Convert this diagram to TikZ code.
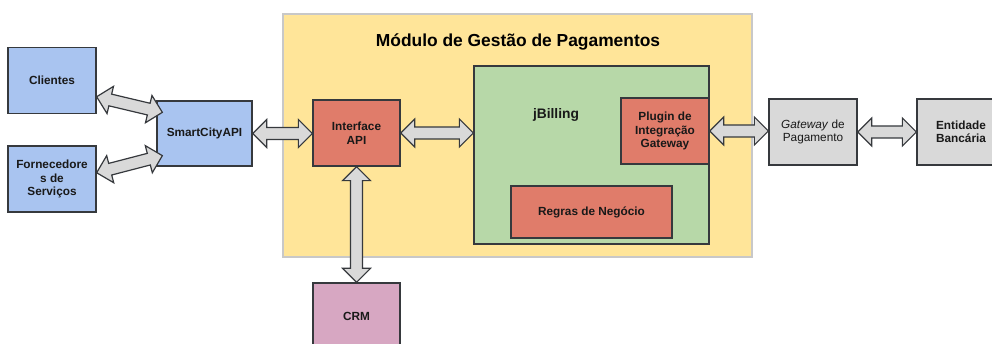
\documentclass[tikz,border=0pt]{standalone}
\usepackage{fontspec}
\setmainfont{Liberation Sans}
\usetikzlibrary{calc}

\definecolor{boxblue}{HTML}{A9C4F0}
\definecolor{boxred}{HTML}{E07C6A}
\definecolor{boxgreen}{HTML}{B7D8A8}
\definecolor{boxyellow}{HTML}{FFE599}
\definecolor{boxpink}{HTML}{D7A7C2}
\definecolor{boxgray}{HTML}{D9D9D9}
\definecolor{edgedark}{HTML}{36393D}
\definecolor{framegray}{HTML}{C8C8C8}

\tikzset{
  box/.style={draw=edgedark, line width=1.3pt, minimum width=88pt, minimum height=66pt,
    align=center, font=\fontsize{11.8}{13.5}\selectfont\bfseries, text=black!90},
  blockarrow/.style={draw=edgedark, fill=boxgray, line width=1.2pt, line join=miter,
    to path={let \p1=(\tikztostart), \p2=(\tikztotarget), \n1={atan2(\y2-\y1,\x2-\x1)} in
      (\p1) -- ($(\p1)+(\n1:14pt)+(\n1+90:14pt)$) -- ($(\p1)+(\n1:14pt)+(\n1+90:6pt)$)
      -- ($(\p2)+(\n1:-14pt)+(\n1+90:6pt)$) -- ($(\p2)+(\n1:-14pt)+(\n1+90:14pt)$)
      -- (\p2) -- ($(\p2)+(\n1:-14pt)+(\n1-90:14pt)$) -- ($(\p2)+(\n1:-14pt)+(\n1-90:6pt)$)
      -- ($(\p1)+(\n1:14pt)+(\n1-90:6pt)$) -- ($(\p1)+(\n1:14pt)+(\n1-90:14pt)$) -- cycle}}
}

\begin{document}
\begin{tikzpicture}[x=1pt,y=-1pt]
  \useasboundingbox (0,0) rectangle (992,344);

  % payment module
  \node[draw=framegray, fill=boxyellow, line width=1.3pt, minimum width=469pt, minimum height=243pt]
    (modulo) at (517.5,135.5) {};
  \node[font=\fontsize{17.4}{19}\selectfont\bfseries] (titulo) at (518,42) {Módulo de Gestão de Pagamentos};

  \node[box, fill=boxgreen, minimum width=235pt, minimum height=178pt] (jbill) at (591.5,155) {};
  \node[font=\fontsize{13.8}{15}\selectfont\bfseries, text=black!90] (jbilltxt) at (556,115) {jBilling};
  \node[box, fill=boxred] (plugin) at (665,131) {Plugin de\\Integração\\Gateway};
  \node[box, fill=boxred, minimum width=161pt, minimum height=52pt] (regras) at (591.5,212) {Regras de Negócio};
  \node[box, fill=boxred, minimum width=87pt] (iface) at (356.5,133) {Interface\\API};

  % outside
  \node[box, fill=boxblue] (cli) at (52,80.5) {Clientes};
  \node[box, fill=boxblue] (forn) at (52,179) {Fornecedore\\s de\\Serviços};
  \node[box, fill=boxblue, minimum width=95pt, minimum height=65pt] (smart) at (204.5,133.5) {SmartCityAPI};
  \node[box, fill=boxpink, minimum width=87pt] (crm) at (356.5,316) {CRM};
  \node[box, fill=boxgray, font=\fontsize{11.8}{13.5}\selectfont] (gw) at (813,132) {\textit{Gateway} de\\Pagamento};
  \node[box, fill=boxgray] (banco) at (961,132) {Entidade\\Bancária};

  % connectors
  \draw[blockarrow] (cli.-20) to ($(smart.north west)+(6,12)$);
  \draw[blockarrow] (forn.8) to ($(smart.south west)+(6,-11)$);
  \draw[blockarrow] (smart.east) to (smart.east -| iface.west);
  \draw[blockarrow] (iface.east) to (iface.east -| jbill.west);
  \draw[blockarrow] (iface.south) to (crm.north);
  \draw[blockarrow] (plugin.east) to (plugin.east -| gw.west);
  \draw[blockarrow] (gw.east) to (banco.west);
\end{tikzpicture}
\end{document}
